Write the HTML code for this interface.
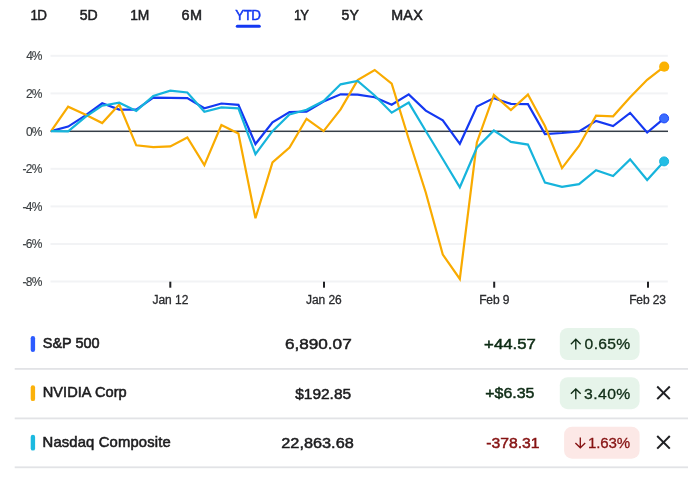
<!DOCTYPE html>
<html><head><meta charset="utf-8"><title>Compare</title>
<style>
html,body{margin:0;padding:0;background:#fff;}
body{width:696px;height:478px;overflow:hidden;font-family:"Liberation Sans", sans-serif;}
svg{display:block;will-change:transform;}
text{font-family:"Liberation Sans", sans-serif;}
</style></head><body>
<svg width="696" height="478" viewBox="0 0 696 478">
<rect x="0" y="0" width="696" height="478" fill="#fff"/>

<text x="30.55" y="19.70" font-size="14" letter-spacing="-0.716" textLength="15.74" lengthAdjust="spacingAndGlyphs" fill="#202124" stroke="#202124" stroke-width="0.5">1D</text>
<text x="79.70" y="19.70" font-size="14" letter-spacing="0.100" textLength="18.20" lengthAdjust="spacingAndGlyphs" fill="#202124" stroke="#202124" stroke-width="0.5">5D</text>
<text x="130.21" y="19.70" font-size="14" letter-spacing="-0.226" textLength="18.75" lengthAdjust="spacingAndGlyphs" fill="#202124" stroke="#202124" stroke-width="0.5">1M</text>
<text x="181.43" y="19.70" font-size="14" letter-spacing="0.590" textLength="21.32" lengthAdjust="spacingAndGlyphs" fill="#202124" stroke="#202124" stroke-width="0.5">6M</text>
<text x="235.26" y="19.70" font-size="14" letter-spacing="-0.575" textLength="25.16" lengthAdjust="spacingAndGlyphs" fill="#1438f2" stroke="#1438f2" stroke-width="0.5">YTD</text>
<text x="294.07" y="19.70" font-size="14" letter-spacing="-1.114" textLength="13.84" lengthAdjust="spacingAndGlyphs" fill="#202124" stroke="#202124" stroke-width="0.5">1Y</text>
<text x="341.50" y="19.70" font-size="14" letter-spacing="0.075" textLength="17.35" lengthAdjust="spacingAndGlyphs" fill="#202124" stroke="#202124" stroke-width="0.5">5Y</text>
<text x="391.18" y="19.70" font-size="14" letter-spacing="0.297" textLength="31.87" lengthAdjust="spacingAndGlyphs" fill="#202124" stroke="#202124" stroke-width="0.5">MAX</text>
<rect x="235.8" y="24.8" width="25" height="3" rx="1.5" fill="#1438f2"/>
<rect x="50.5" y="54.80" width="617.3" height="2" fill="#f2f3f5"/>
<rect x="50.5" y="92.40" width="617.3" height="2" fill="#f2f3f5"/>
<rect x="50.5" y="167.80" width="617.3" height="2" fill="#f2f3f5"/>
<rect x="50.5" y="205.40" width="617.3" height="2" fill="#f2f3f5"/>
<rect x="50.5" y="243.00" width="617.3" height="2" fill="#f2f3f5"/>
<rect x="50.5" y="280.50" width="617.3" height="2" fill="#f2f3f5"/>
<text x="26.32" y="60.20" font-size="12" letter-spacing="-1.300" fill="#3c4043" stroke="#3c4043" stroke-width="0.15">4%</text>
<text x="25.97" y="97.80" font-size="12" letter-spacing="-0.950" fill="#3c4043" stroke="#3c4043" stroke-width="0.15">2%</text>
<text x="26.12" y="135.50" font-size="12" letter-spacing="-1.100" fill="#3c4043" stroke="#3c4043" stroke-width="0.15">0%</text>
<text x="22.42" y="173.20" font-size="12" letter-spacing="-0.700" fill="#3c4043" stroke="#3c4043" stroke-width="0.15">-2%</text>
<text x="22.42" y="210.80" font-size="12" letter-spacing="-0.700" fill="#3c4043" stroke="#3c4043" stroke-width="0.15">-4%</text>
<text x="22.42" y="248.40" font-size="12" letter-spacing="-0.700" fill="#3c4043" stroke="#3c4043" stroke-width="0.15">-6%</text>
<text x="22.42" y="285.90" font-size="12" letter-spacing="-0.700" fill="#3c4043" stroke="#3c4043" stroke-width="0.15">-8%</text>
<rect x="50.5" y="130.55" width="617.5" height="1.5" fill="#353d47"/>
<rect x="169.30" y="281.7" width="2" height="6" fill="#202124"/>
<text x="152.45" y="304.20" font-size="12" letter-spacing="-0.010" fill="#2a2b2e" stroke="#2a2b2e" stroke-width="0.3">Jan 12</text>
<rect x="323.00" y="281.7" width="2" height="6" fill="#202124"/>
<text x="305.95" y="304.20" font-size="12" letter-spacing="-0.040" fill="#2a2b2e" stroke="#2a2b2e" stroke-width="0.3">Jan 26</text>
<rect x="493.20" y="281.7" width="2" height="6" fill="#202124"/>
<text x="479.15" y="304.20" font-size="12" letter-spacing="-0.125" fill="#2a2b2e" stroke="#2a2b2e" stroke-width="0.3">Feb 9</text>
<rect x="647.00" y="281.7" width="2" height="6" fill="#202124"/>
<text x="629.15" y="304.20" font-size="12" letter-spacing="-0.110" fill="#2a2b2e" stroke="#2a2b2e" stroke-width="0.3">Feb 23</text>
<polyline points="51.10,131.10 68.13,126.60 85.16,115.70 102.19,103.30 119.22,109.60 136.25,109.70 153.28,97.60 170.31,97.90 187.34,98.10 204.37,108.20 221.40,103.50 238.43,104.80 255.46,144.00 272.49,122.40 289.52,112.00 306.55,111.60 323.58,101.50 340.61,94.30 357.64,94.60 374.67,97.20 391.70,104.70 408.73,94.40 425.76,110.60 442.79,120.30 459.82,143.80 476.85,106.60 493.88,98.10 510.91,103.90 527.94,104.10 544.97,134.00 562.00,133.00 579.03,131.40 596.06,120.90 613.09,126.00 630.12,112.90 647.15,132.50 664.18,118.40" fill="none" stroke="#1438f2" stroke-width="2.2" stroke-linejoin="miter" stroke-miterlimit="4" stroke-linecap="butt"/>
<polyline points="51.10,131.10 68.13,106.70 85.16,114.60 102.19,123.10 119.22,104.60 136.25,145.30 153.28,147.20 170.31,146.40 187.34,137.50 204.37,165.20 221.40,125.10 238.43,133.60 255.46,218.30 272.49,162.40 289.52,147.50 306.55,118.80 323.58,131.10 340.61,109.40 357.64,80.10 374.67,70.00 391.70,83.70 408.73,139.00 425.76,192.50 442.79,254.60 459.82,279.00 476.85,142.50 493.88,94.90 510.91,110.10 527.94,94.60 544.97,126.00 562.00,168.10 579.03,146.00 596.06,115.60 613.09,116.30 630.12,97.30 647.15,79.80 664.18,66.70" fill="none" stroke="#f9ab00" stroke-width="2.2" stroke-linejoin="miter" stroke-miterlimit="4" stroke-linecap="butt"/>
<polyline points="51.10,131.10 68.13,131.30 85.16,117.20 102.19,105.70 119.22,102.70 136.25,110.90 153.28,95.90 170.31,90.70 187.34,92.50 204.37,111.70 221.40,107.40 238.43,108.40 255.46,154.20 272.49,131.20 289.52,114.50 306.55,109.80 323.58,101.00 340.61,84.30 357.64,80.90 374.67,95.50 391.70,112.70 408.73,102.60 425.76,131.00 442.79,159.00 459.82,187.30 476.85,147.70 493.88,130.50 510.91,141.90 527.94,144.60 544.97,182.60 562.00,186.90 579.03,184.10 596.06,170.20 613.09,176.00 630.12,159.40 647.15,180.00 664.18,161.30" fill="none" stroke="#16b4dc" stroke-width="2.2" stroke-linejoin="miter" stroke-miterlimit="4" stroke-linecap="butt"/>
<circle cx="664.2" cy="66.7" r="5.1" fill="#fbb202"/>
<circle cx="664.1" cy="118.4" r="4.5" fill="#3a6cff" stroke="#1c45fa" stroke-width="1"/>
<circle cx="664.1" cy="161.4" r="4.5" fill="#22bde4" stroke="#16b2dc" stroke-width="1"/>
<rect x="30.7" y="336.10" width="4.4" height="15.8" rx="2.2" fill="#2c5bff"/>
<text x="42.83" y="347.70" font-size="14.5" letter-spacing="-0.017" textLength="56.75" lengthAdjust="spacingAndGlyphs" fill="#1c1c1e" stroke="#1c1c1e" stroke-width="0.55">S&amp;P 500</text>
<text x="284.90" y="349.00" font-size="15.2" textLength="66.82" lengthAdjust="spacingAndGlyphs" fill="#1c1c1e" stroke="#1c1c1e" stroke-width="0.5">6,890.07</text>
<text x="484.12" y="348.90" font-size="15.2" textLength="51.67" lengthAdjust="spacingAndGlyphs" fill="#0e2c15" stroke="#0e2c15" stroke-width="0.5">+44.57</text>
<rect x="559.8" y="328.00" width="79.8" height="32" rx="8" fill="#e6f4ea"/>
<path d="M575.8,349.60 V339.80 M570.9,344.20 L575.8,339.30 L580.6999999999999,344.20" fill="none" stroke="#0e2c15" stroke-width="1.35"/>
<text x="584.63" y="349.30" font-size="15.2" letter-spacing="0.308" textLength="45.95" lengthAdjust="spacingAndGlyphs" fill="#0e2c15" stroke="#0e2c15" stroke-width="0.3">0.65%</text>
<rect x="30.7" y="385.30" width="4.4" height="15.8" rx="2.2" fill="#fbb10a"/>
<text x="42.67" y="396.90" font-size="14.5" letter-spacing="0.052" textLength="84.11" lengthAdjust="spacingAndGlyphs" fill="#1c1c1e" stroke="#1c1c1e" stroke-width="0.55">NVIDIA Corp</text>
<text x="295.20" y="398.50" font-size="15.2" textLength="55.91" lengthAdjust="spacingAndGlyphs" fill="#1c1c1e" stroke="#1c1c1e" stroke-width="0.5">$192.85</text>
<text x="485.26" y="398.40" font-size="15.2" textLength="49.18" lengthAdjust="spacingAndGlyphs" fill="#0e2c15" stroke="#0e2c15" stroke-width="0.5">+$6.35</text>
<rect x="559.8" y="377.20" width="79.8" height="32" rx="8" fill="#e6f4ea"/>
<path d="M575.8,399.20 V389.40 M570.9,393.80 L575.8,388.90 L580.6999999999999,393.80" fill="none" stroke="#0e2c15" stroke-width="1.35"/>
<text x="584.13" y="398.90" font-size="15.2" letter-spacing="0.369" textLength="46.52" lengthAdjust="spacingAndGlyphs" fill="#0e2c15" stroke="#0e2c15" stroke-width="0.3">3.40%</text>
<path transform="translate(651.50,380.80)" d="M19 6.41L17.59 5 12 10.59 6.41 5 5 6.41 10.59 12 5 17.59 6.41 19 12 13.41 17.59 19 19 17.59 13.41 12z" fill="#202124"/>
<rect x="30.7" y="434.80" width="4.4" height="15.8" rx="2.2" fill="#1cb9e0"/>
<text x="42.55" y="447.10" font-size="14.5" letter-spacing="0.157" textLength="128.26" lengthAdjust="spacingAndGlyphs" fill="#1c1c1e" stroke="#1c1c1e" stroke-width="0.55">Nasdaq Composite</text>
<text x="281.25" y="448.00" font-size="15.2" textLength="72.53" lengthAdjust="spacingAndGlyphs" fill="#1c1c1e" stroke="#1c1c1e" stroke-width="0.5">22,863.68</text>
<text x="486.28" y="447.90" font-size="15.2" textLength="53.35" lengthAdjust="spacingAndGlyphs" fill="#861313" stroke="#861313" stroke-width="0.5">-378.31</text>
<rect x="564.1" y="426.70" width="75.5" height="32" rx="8" fill="#fce8e6"/>
<path d="M580.3,437.50 V447.30 M575.4,442.90 L580.3,447.80 L585.1999999999999,442.90" fill="none" stroke="#861313" stroke-width="1.35"/>
<text x="587.91" y="448.10" font-size="15.2" letter-spacing="-0.094" textLength="42.24" lengthAdjust="spacingAndGlyphs" fill="#861313" stroke="#861313" stroke-width="0.3">1.63%</text>
<path transform="translate(651.50,430.30)" d="M19 6.41L17.59 5 12 10.59 6.41 5 5 6.41 10.59 12 5 17.59 6.41 19 12 13.41 17.59 19 19 17.59 13.41 12z" fill="#202124"/>
<rect x="14.7" y="368.00" width="673.3" height="1.8" fill="#e2e3e6"/>
<rect x="14.7" y="417.50" width="673.3" height="1.8" fill="#e2e3e6"/>
<rect x="14.7" y="466.40" width="673.3" height="1.8" fill="#e2e3e6"/>
</svg>
</body></html>
